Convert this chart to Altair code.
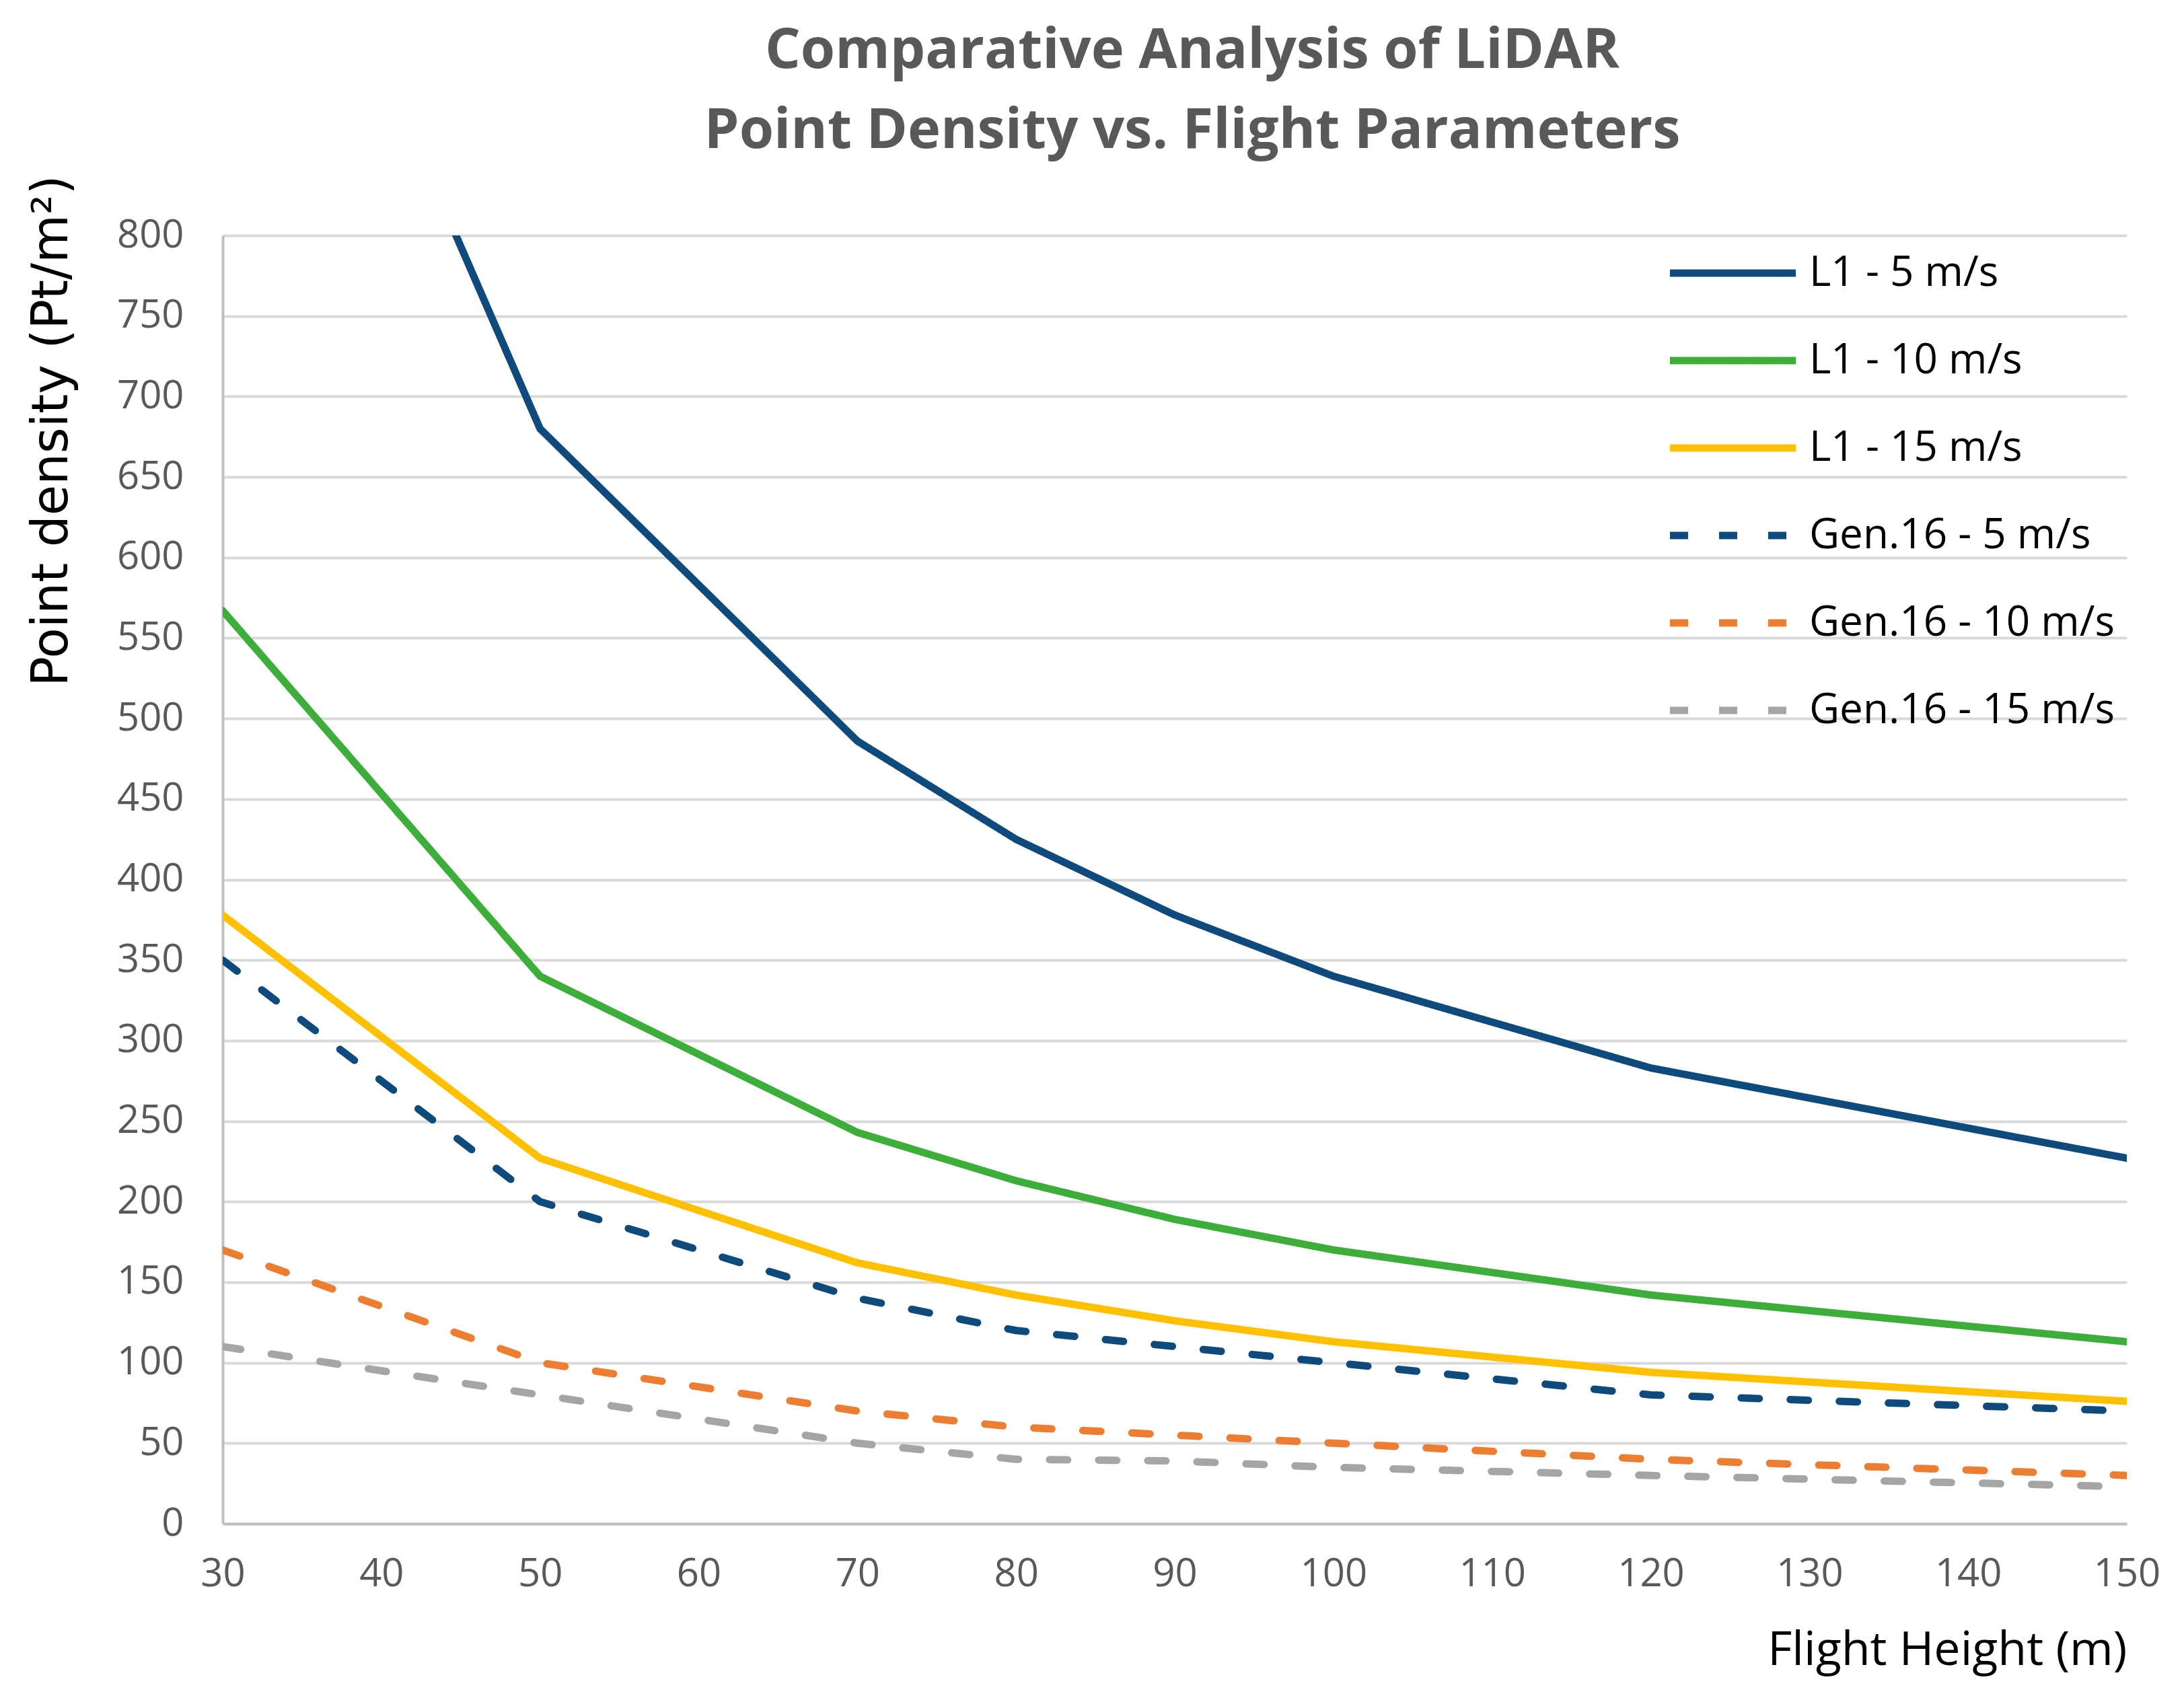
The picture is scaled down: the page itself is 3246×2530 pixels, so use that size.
import pandas as pd
import altair as alt

# flight heights (m) where the series have points
heights = [30, 50, 70, 80, 90, 100, 120, 150]

series_names = ["L1 - 5 m/s", "L1 - 10 m/s", "L1 - 15 m/s",
                "Gen.16 - 5 m/s", "Gen.16 - 10 m/s", "Gen.16 - 15 m/s"]
l1_5 = [1133, 680, 486, 425, 378, 340, 283, 227]
l1_10 = [567, 340, 243, 213, 189, 170, 142, 113]
l1_15 = [378, 227, 162, 142, 126, 113, 94, 76]
gen16_5 = [350, 200, 140, 120, 110, 100, 80, 70]
gen16_10 = [170, 100, 70, 60, 55, 50, 40, 30]
gen16_15 = [110, 80, 50, 40, 39, 35, 30, 23]

colors = ["#0E4A7B", "#3DAE3A", "#FFC000", "#0E4A7B", "#ED7D31", "#A5A5A5"]
dashes = [[1, 0], [1, 0], [1, 0], [27, 46], [27, 46], [27, 46]]

y_ticks = list(range(0, 801, 50))
x_ticks = list(range(30, 151, 10))

rows = []
for name, vals in zip(series_names, [l1_5, l1_10, l1_15, gen16_5, gen16_10, gen16_15]):
    for h, v in zip(heights, vals):
        rows.append({"series": name, "height": h, "density": v})
df = pd.DataFrame(rows)

W, H = 2830, 1915

legend = alt.Legend(
    title=None, orient="none", legendX=2145, legendY=26,
    symbolType="stroke", symbolSize=35000, symbolStrokeWidth=11,
    clipHeight=60, rowPadding=68, labelOffset=14, labelLimit=1000,
    labelFont="Open Sans", labelFontSize=62, labelColor="#000000",
)

chart = alt.Chart(df).mark_line(clip=True, strokeWidth=11, strokeCap="round", strokeJoin="round").encode(
    x=alt.X("height:Q", scale=alt.Scale(domain=[30, 150], nice=False),
            axis=alt.Axis(values=x_ticks, title="Flight Height (m)", grid=False, ticks=False,
                          labelFlush=False, labelOverlap=False,
                          labelPadding=46, titleX=W, titleY=188, titleAlign="right",
                          titleBaseline="middle", titleFontSize=70)),
    y=alt.Y("density:Q", scale=alt.Scale(domain=[0, 800], nice=False),
            axis=alt.Axis(values=y_ticks, title="Point density (Pt/m²)", ticks=False,
                          labelFlush=False, labelOverlap=False,
                          labelPadding=58, titleX=-254, titleY=290, titleAngle=-90,
                          titleAlign="center", titleBaseline="middle",
                          titleFont="DejaVu Sans", titleFontSize=74)),
    color=alt.Color("series:N", scale=alt.Scale(domain=series_names, range=colors), legend=legend),
    strokeDash=alt.StrokeDash("series:N", scale=alt.Scale(domain=series_names, range=dashes), legend=legend),
    order=alt.Order("height:Q"),
).properties(
    width=W,
    height=H,
    autosize=alt.AutoSizeParams(type="none"),
    padding={"left": 323, "top": 342, "right": 60, "bottom": 240},
    title=alt.Title(
        ["Comparative Analysis of LiDAR", "Point Density vs. Flight Parameters"],
        font="Open Sans", fontSize=83, fontWeight="bold", color="#595959",
        lineHeight=119, anchor="middle", frame="group", dx=26, offset=23,
    ),
).configure_axis(
    labelFont="Open Sans", labelFontSize=58, labelColor="#595959",
    titleFont="Open Sans", titleFontSize=60, titleColor="#000000", titleFontWeight="normal",
    gridColor="#D9D9D9", gridWidth=4, domainColor="#BFBFBF", domainWidth=4,
).configure_view(strokeWidth=0)

chart.save("out.html", embed_options={"renderer": "svg", "actions": False})
